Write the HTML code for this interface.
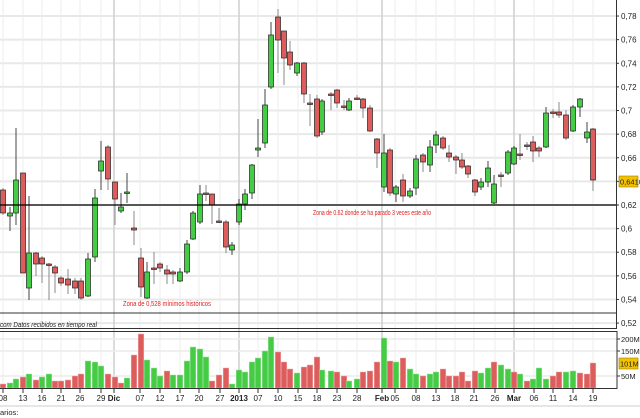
<!DOCTYPE html>
<html><head><meta charset="utf-8"><style>
html,body{margin:0;padding:0;background:#fff;width:640px;height:418px;overflow:hidden}
svg{display:block;font-family:"Liberation Sans",sans-serif}
</style></head><body>
<svg id="s" width="640" height="418" xmlns="http://www.w3.org/2000/svg"></svg>
<script>
const s=document.getElementById('s');let h='';
const py=p=>205-(p-0.62)*1181;
for(let p=0.52;p<0.795;p+=0.02){const y=py(p);if(y>2&&y<326)h+=`<line x1="0" x2="616" y1="${y}" y2="${y}" stroke="#e8e8e8" stroke-width="2"/>`;
 h+=`<line x1="616" x2="619" y1="${y}" y2="${y}" stroke="#333"/><text x="621" y="${y+3}" font-size="8" fill="#222">${p.toFixed(2).replace('.',',').replace(/0$/,'').replace(/,$/,'')}</text>`;}
const dl=[[3,'08'],[23,'13'],[42,'16'],[61,'21'],[80,'26'],[101,'29'],[114,'Dic',1],[140,'07'],[160,'12'],[180,'17'],[199,'20'],[220,'27'],[239,'2013',1],[258,'07'],[278,'10'],[298,'15'],[317,'18'],[337,'23'],[357,'28'],[382,'Feb',1],[395,'05'],[416,'08'],[436,'13'],[455,'18'],[474,'21'],[495,'26'],[514,'Mar',1],[534,'06'],[553,'11'],[573,'14'],[593,'19']];
dl.forEach(d=>{h+=`<line x1="${d[0]}" x2="${d[0]}" y1="0" y2="389" stroke="${d[2]?'#cfcfcf':'#ececec'}" stroke-width="${d[2]?1.5:1}"/>`;
 h+=`<line x1="${d[0]}" x2="${d[0]}" y1="389" y2="393" stroke="#333"/><text x="${d[0]}" y="401" font-size="8" text-anchor="middle" fill="#222" ${d[2]?'font-weight="bold"':''}>${d[1]}</text>`;});
[[339,'200M'],[351,'150M'],[376,'50M']].forEach(v=>{h+=`<line x1="0" x2="617" y1="${v[0]}" y2="${v[0]}" stroke="#ececec" stroke-width="1.5"/><line x1="617" x2="620" y1="${v[0]}" y2="${v[0]}" stroke="#333"/><text x="621" y="${v[0]+3}" font-size="7.5" fill="#222">${v[1]}</text>`;});
const C=[[3,190,213,188,215,'r'],[10,213,216,207,231,'g'],[16,180,213,128,225,'g'],[23,173,273,173,273,'r'],[29,253,288,196,300,'g'],[36,253,264,252,276,'r'],[42,258,264,256,283,'r'],[49,264,264,263,300,'r'],[55,267,273,265,293,'r'],[61,278,283,276,286,'r'],[68,279,285,269,294,'r'],[75,281,288,278,294,'r'],[81,281,298,278,300,'r'],[88,259,296,253,297,'g'],[95,198,257,189,262,'g'],[101,161,171,141,190,'g'],[108,147,179,145,190,'r'],[115,182,199,182,225,'r'],[121,207,211,193,213,'g'],[127,192,193,173,203,'g'],[134,228,230,211,245,'r'],[141,258,287,248,297,'r'],[147,272,298,262,299,'g'],[154,268,269,252,284,'r'],[160,264,268,262,272,'r'],[167,270,274,265,284,'r'],[173,272,274,270,284,'r'],[180,272,281,268,282,'g'],[187,244,272,240,274,'g'],[193,213,239,211,240,'g'],[200,194,222,185,224,'g'],[206,193,194,185,201,'r'],[212,194,205,194,224,'r'],[219,221,222,208,223,'r'],[226,222,247,220,253,'r'],[232,245,250,242,255,'g'],[239,204,222,199,225,'g'],[245,194,204,189,210,'g'],[252,165,193,164,199,'g'],[258,148,150,119,157,'g'],[265,105,143,89,148,'g'],[271,35,87,22,89,'g'],[278,17,40,9,73,'r'],[284,31,58,41,85,'r'],[290,52,65,41,70,'r'],[297,63,73,62,76,'g'],[304,63,94,62,103,'r'],[310,103,103,94,126,'r'],[317,99,136,95,138,'r'],[322,101,132,99,135,'g'],[331,94,95,92,110,'r'],[337,90,103,89,108,'r'],[344,106,106,100,110,'r'],[349,101,110,98,111,'g'],[357,98,99,95,100,'r'],[363,99,108,98,118,'r'],[370,108,131,105,132,'r'],[377,139,153,138,168,'r'],[384,153,187,134,192,'g'],[390,150,193,148,196,'r'],[396,187,194,185,202,'g'],[403,180,196,174,202,'r'],[410,191,196,188,198,'g'],[416,159,188,155,195,'g'],[423,155,162,153,172,'r'],[430,147,165,140,172,'g'],[436,135,145,131,153,'g'],[443,138,148,136,150,'r'],[449,153,157,145,162,'r'],[456,157,160,155,174,'r'],[462,160,167,153,169,'r'],[468,166,174,165,178,'r'],[475,180,192,179,196,'r'],[481,182,187,178,190,'g'],[488,168,182,161,187,'g'],[494,184,203,175,204,'g'],[501,175,176,172,187,'r'],[508,152,173,150,175,'g'],[514,148,164,146,165,'g'],[520,154,155,134,160,'r'],[527,145,146,142,150,'r'],[533,142,151,136,162,'r'],[539,148,151,146,157,'r'],[546,113,147,107,148,'g'],[553,112,113,109,118,'r'],[559,112,115,102,118,'r'],[566,115,138,110,140,'r'],[573,107,131,105,132,'g'],[580,99,107,98,117,'g'],[587,132,138,122,143,'g'],[593,129,180,128,191,'r']];
C.forEach(c=>{const [x,o,cl,hi,lo,col]=c;const t=Math.min(o,cl),b=Math.max(o,cl);
 h+=`<line x1="${x}" x2="${x}" y1="${hi}" y2="${lo}" stroke="${col=='g'?'#444':'#888'}" stroke-width="1"/>`;
 h+=`<rect x="${x-2.5}" y="${t}" width="5" height="${Math.max(b-t,1.5)}" fill="${col=='g'?'#44cc44':'#dd5c5c'}" stroke="#222" stroke-width="0.7"/>`;});
h+=`<line x1="0" x2="616" y1="205" y2="205" stroke="#000" stroke-width="1.2"/>`;
h+=`<line x1="0" x2="616" y1="313" y2="313" stroke="#333" stroke-width="1"/>`;
h+=`<text x="313" y="215" font-size="7" fill="#e02020" textLength="118" lengthAdjust="spacingAndGlyphs">Zona de 0.62 donde se ha parado 3 veces este año</text>`;
h+=`<text x="123" y="306" font-size="7" fill="#e02020" textLength="88" lengthAdjust="spacingAndGlyphs">Zona de 0,528 mínimos históricos</text>`;
h+=`<text x="0" y="327" font-size="7.5" fill="#222" font-style="italic" textLength="97" lengthAdjust="spacingAndGlyphs">com  Datos recibidos en tiempo real</text>`;
h+=`<rect x="619" y="176" width="19" height="11" fill="#f2c200" stroke="#a08000" stroke-width="0.6"/><text x="620" y="184.5" font-size="7.5" fill="#222">0,6410</text>`;
const V=[[3,384,'r'],[10,383,'g'],[16,379,'g'],[23,377,'r'],[29,374,'g'],[36,380,'r'],[42,377,'g'],[49,374,'g'],[55,381,'r'],[61,381,'r'],[68,380,'r'],[75,376,'r'],[81,374,'r'],[88,361,'g'],[95,362,'g'],[101,366,'g'],[108,374,'r'],[115,377,'r'],[121,383,'r'],[127,378,'g'],[134,355,'r'],[141,334,'r'],[147,360,'g'],[154,368,'g'],[160,376,'g'],[167,371,'r'],[173,375,'g'],[180,375,'g'],[187,361,'g'],[193,347,'g'],[200,349,'g'],[206,357,'g'],[212,381,'r'],[219,375,'r'],[226,368,'r'],[232,384,'g'],[239,370,'g'],[245,372,'g'],[252,362,'g'],[258,358,'g'],[265,351,'g'],[271,337,'g'],[278,352,'r'],[284,362,'r'],[290,369,'r'],[297,373,'g'],[304,367,'r'],[310,365,'r'],[317,357,'r'],[322,370,'g'],[331,371,'g'],[337,372,'r'],[344,376,'r'],[349,381,'g'],[357,379,'g'],[363,372,'r'],[370,371,'r'],[377,362,'r'],[384,338,'g'],[390,361,'r'],[396,362,'g'],[403,358,'r'],[410,369,'g'],[416,374,'g'],[423,376,'r'],[430,374,'g'],[436,372,'g'],[443,369,'r'],[449,376,'r'],[456,376,'r'],[462,372,'r'],[468,381,'r'],[475,371,'r'],[481,373,'g'],[488,368,'g'],[494,362,'r'],[501,365,'g'],[508,369,'g'],[514,372,'r'],[520,374,'g'],[527,381,'r'],[533,379,'g'],[539,368,'g'],[546,379,'g'],[553,376,'r'],[559,372,'r'],[566,372,'g'],[573,371,'g'],[580,373,'r'],[587,374,'r'],[593,363,'r']];
V.forEach(v=>{h+=`<rect x="${v[0]-2.8}" y="${v[1]}" width="5.6" height="${388-v[1]}" fill="${v[2]=='g'?'#44cc44':'#dd5c5c'}" stroke="${v[2]=='g'?'#9ee09e':'#eeaaaa'}" stroke-width="0.5"/>`;});
h+=`<rect x="619" y="358" width="19" height="11" fill="#f2c200" stroke="#a08000" stroke-width="0.6"/><text x="620" y="366.5" font-size="7.5" fill="#222">101M</text>`;
h+=`<line x1="616.5" x2="616.5" y1="0" y2="329" stroke="#333"/><line x1="0" x2="617" y1="328.5" y2="328.5" stroke="#333"/>`;
h+=`<line x1="0" x2="617" y1="331.5" y2="331.5" stroke="#333"/><line x1="617" x2="617" y1="331" y2="389" stroke="#333"/><line x1="0" x2="617" y1="388.5" y2="388.5" stroke="#333"/>`;
h+=`<line x1="0" x2="640" y1="406" y2="406" stroke="#ccc" stroke-width="1"/><text x="0" y="415" font-size="7.5" fill="#222">arios:</text>`;
s.innerHTML=h;
</script>
</body></html>
